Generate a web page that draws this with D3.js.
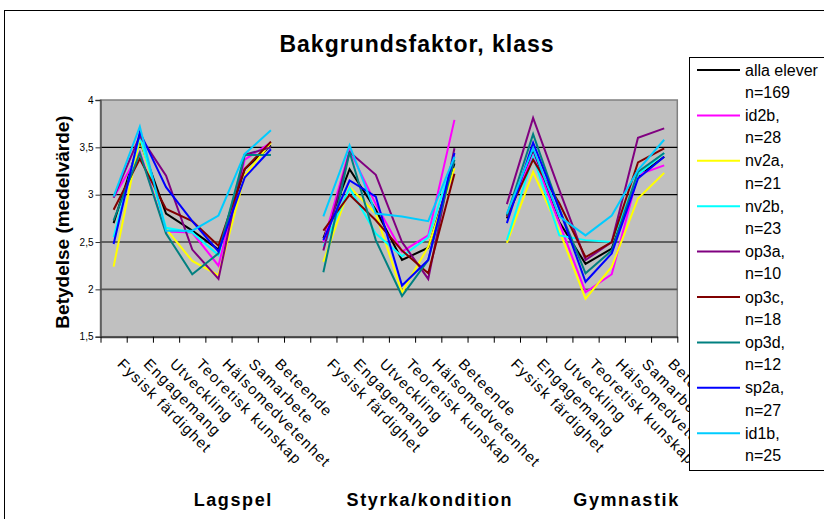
<!DOCTYPE html>
<html>
<head>
<meta charset="utf-8">
<script src="https://cdn.jsdelivr.net/npm/d3@7"></script>
<style>
  body { margin: 0; background: #fff; }
  text { font-family: 'Liberation Sans', Arial, sans-serif; }
</style>
</head>
<body>
<div id="chart"></div>
<script>
// categories, null = empty slot between the activity groups
const categories = [
  'Fysisk färdighet', 'Engagemang', 'Utveckling', 'Teoretisk kunskap', 'Hälsomedvetenhet', 'Samarbete', 'Beteende', null,
  'Fysisk färdighet', 'Engagemang', 'Utveckling', 'Teoretisk kunskap', 'Hälsomedvetenhet', 'Beteende', null,
  'Fysisk färdighet', 'Engagemang', 'Utveckling', 'Teoretisk kunskap', 'Hälsomedvetenhet', 'Samarbete', 'Beteende'
];
const groupNames = ['Lagspel', 'Styrka/kondition', 'Gymnastik'];
const groupStart = [0, 8, 15];
const groupEnd = [6, 13, 21];
const yTicks = [1.5, 2, 2.5, 3, 3.5, 4];

const seriesNames = ['alla elever', 'id2b,', 'nv2a,', 'nv2b,', 'op3a,', 'op3c,', 'op3d,', 'sp2a,', 'id1b,'];
const seriesCounts = ['n=169', 'n=28', 'n=21', 'n=23', 'n=10', 'n=18', 'n=12', 'n=27', 'n=25'];
const seriesColors = ['#000000', '#ff00ff', '#ffff00', '#00ffff', '#800080', '#800000', '#008080', '#0000ff', '#00ccff'];

const alla = [2.70, 3.57, 2.80, 2.62, 2.42, 3.27, 3.52, null, 2.54, 3.27, 2.84, 2.31, 2.44, 3.33, null, 2.75, 3.45, 2.71, 2.27, 2.43, 3.19, 3.40];
const id2b = [2.97, 3.45, 2.61, 2.60, 2.25, 3.37, 3.55, null, 2.50, 3.47, 2.90, 2.40, 2.57, 3.79, null, 2.77, 3.42, 2.70, 1.97, 2.16, 3.21, 3.31];
const nv2a = [2.24, 3.60, 2.64, 2.30, 2.15, 3.20, 3.55, null, 2.29, 3.08, 2.80, 1.97, 2.45, 3.28, null, 2.49, 3.24, 2.62, 1.90, 2.24, 2.96, 3.23];
const nv2b = [2.55, 3.62, 2.65, 2.60, 2.36, 3.42, 3.50, null, 2.45, 3.07, 2.59, 2.35, 2.55, 3.40, null, 2.52, 3.40, 2.57, 2.52, 2.50, 3.21, 3.44];
const op3a = [2.97, 3.62, 3.20, 2.42, 2.11, 3.42, 3.50, null, 2.41, 3.45, 3.21, 2.50, 2.11, 3.49, null, 2.90, 3.81, 3.05, 2.31, 2.50, 3.60, 3.70];
const op3c = [2.84, 3.38, 2.85, 2.72, 2.46, 3.27, 3.56, null, 2.62, 3.00, 2.73, 2.41, 2.17, 3.22, null, 2.77, 3.37, 2.91, 2.34, 2.50, 3.34, 3.49];
const op3d = [2.73, 3.44, 2.59, 2.16, 2.38, 3.42, 3.42, null, 2.18, 3.45, 2.52, 1.93, 2.31, 3.37, null, 2.78, 3.64, 2.85, 2.17, 2.41, 3.24, 3.44];
const sp2a = [2.48, 3.66, 3.08, 2.72, 2.40, 3.18, 3.48, null, 2.52, 3.15, 2.98, 2.04, 2.31, 3.44, null, 2.70, 3.55, 2.85, 2.08, 2.38, 3.17, 3.40];
const id1b = [2.98, 3.72, 2.62, 2.62, 2.78, 3.43, 3.68, null, 2.77, 3.52, 2.80, 2.77, 2.72, 3.40, null, 2.80, 3.49, 2.77, 2.57, 2.78, 3.26, 3.58];

const seriesValues = [alla, id2b, nv2a, nv2b, op3a, op3c, op3d, sp2a, id1b];

const width = 824;
const height = 519;
const plot = { left: 100.5, right: 677.3, top: 100, bottom: 336.7 };

const svg = d3
  .select('#chart')
  .append('svg')
  .attr('width', width)
  .attr('height', height);

// chart area border (runs off the right and bottom edge)
svg
  .append('rect')
  .attr('x', 4.5)
  .attr('y', 10.5)
  .attr('width', 860)
  .attr('height', 540)
  .attr('fill', '#fff')
  .attr('stroke', '#000');

const xScale = d3
  .scaleBand()
  .domain(d3.range(categories.length))
  .range([plot.left, plot.right]);

const xEdges = d3
  .scaleLinear()
  .domain([0, categories.length])
  .range([plot.left, plot.right]);

const yScale = d3.scaleLinear().domain([1.5, 4]).range([plot.bottom, plot.top]);

// plot background
svg
  .append('rect')
  .attr('x', plot.left)
  .attr('y', plot.top)
  .attr('width', plot.right - plot.left)
  .attr('height', plot.bottom - plot.top)
  .attr('fill', '#c0c0c0')
  .attr('stroke', '#808080')
  .attr('stroke-width', 1.5);

svg
  .append('g')
  .selectAll('line')
  .data(yTicks.filter((d) => d > 1.5 && d < 4))
  .enter()
  .append('line')
  .attr('x1', plot.left)
  .attr('x2', plot.right)
  .attr('y1', (d) => yScale(d))
  .attr('y2', (d) => yScale(d))
  .attr('stroke', (d) => (d === 2 ? '#555' : '#000'))
  .attr('stroke-width', (d) => (d === 2 ? 1.6 : 1.2));

// axes
const yAxis = svg
  .append('g')
  .attr('transform', `translate(${plot.left},0)`)
  .call(
    d3
      .axisLeft(yScale)
      .tickValues(yTicks)
      .tickSize(5)
      .tickPadding(2)
      .tickFormat((d) => String(d).replace('.', ','))
  );
yAxis.select('.domain').attr('stroke', '#555').attr('stroke-width', 1.5);
yAxis.selectAll('.tick line').attr('stroke', '#333');
yAxis
  .selectAll('.tick text')
  .style('font-size', '10px')
  .style('font-family', "'Liberation Sans', Arial, sans-serif")
  .attr('fill', '#000');

const xAxis = svg
  .append('g')
  .attr('transform', `translate(0,${plot.bottom})`)
  .call(
    d3
      .axisBottom(xEdges)
      .tickValues(d3.range(categories.length + 1))
      .tickSize(6)
      .tickSizeOuter(0)
      .tickFormat('')
  );
xAxis.select('.domain').attr('stroke', '#444').attr('stroke-width', 2);
xAxis.selectAll('.tick line').attr('stroke', '#000');

// rotated category labels
svg
  .append('g')
  .selectAll('text')
  .data(categories.map((c, i) => ({ c, i })).filter((d) => d.c))
  .enter()
  .append('text')
  .attr(
    'transform',
    (d) => `translate(${xScale(d.i) + xScale.bandwidth() / 2 + 3},365) rotate(45)`
  )
  .style('font-size', '15px')
  .style('letter-spacing', '1.3px')
  .attr('fill', '#000')
  .text((d) => d.c);

// series lines
const line = d3
  .line()
  .defined((d) => d.v != null)
  .x((d) => xScale(d.i) + xScale.bandwidth() / 2)
  .y((d) => yScale(d.v));

svg
  .append('g')
  .selectAll('path')
  .data(seriesValues)
  .enter()
  .append('path')
  .attr('d', (vals) => line(vals.map((v, i) => ({ v, i }))))
  .attr('fill', 'none')
  .attr('stroke', (d, i) => seriesColors[i])
  .attr('stroke-width', 2)
  .attr('stroke-linejoin', 'miter');

// title
svg
  .append('text')
  .attr('x', 417)
  .attr('y', 52)
  .style('text-anchor', 'middle')
  .style('font-size', '23px')
  .style('font-weight', 'bold')
  .style('letter-spacing', '1px')
  .text('Bakgrundsfaktor, klass');

// y axis title
svg
  .append('text')
  .attr('transform', 'rotate(-90)')
  .attr('x', -222)
  .attr('y', 69)
  .style('text-anchor', 'middle')
  .style('font-size', '19px')
  .style('font-weight', 'bold')
  .text('Betydelse (medelvärde)');

// group labels, sitting under the slanted labels of each group
svg
  .append('g')
  .selectAll('text')
  .data(groupNames)
  .enter()
  .append('text')
  .attr('x', (d, i) => (xScale(groupStart[i]) + xScale(groupEnd[i]) + xScale.bandwidth()) / 2 + 41)
  .attr('y', 506)
  .style('text-anchor', 'middle')
  .style('font-size', '18px')
  .style('font-weight', 'bold')
  .style('letter-spacing', '1.6px')
  .text((d) => d);

// legend
const legend = svg.append('g');
legend
  .append('rect')
  .attr('x', 689.5)
  .attr('y', 57.5)
  .attr('width', 160)
  .attr('height', 413)
  .attr('fill', '#fff')
  .attr('stroke', '#000');

const item = legend
  .selectAll('g')
  .data(seriesNames)
  .enter()
  .append('g')
  .attr('transform', (d, i) => `translate(0,${70 + i * 45.4})`);

item
  .append('line')
  .attr('x1', 697)
  .attr('x2', 740)
  .attr('stroke', (d, i) => seriesColors[i])
  .attr('stroke-width', 2);

item
  .append('text')
  .attr('x', 745)
  .attr('dy', '0.35em')
  .style('font-size', '16px')
  .text((d) => d);

item
  .append('text')
  .attr('x', 745)
  .attr('y', 22.3)
  .attr('dy', '0.35em')
  .style('font-size', '16px')
  .text((d, i) => seriesCounts[i]);
</script>
</body>
</html>
